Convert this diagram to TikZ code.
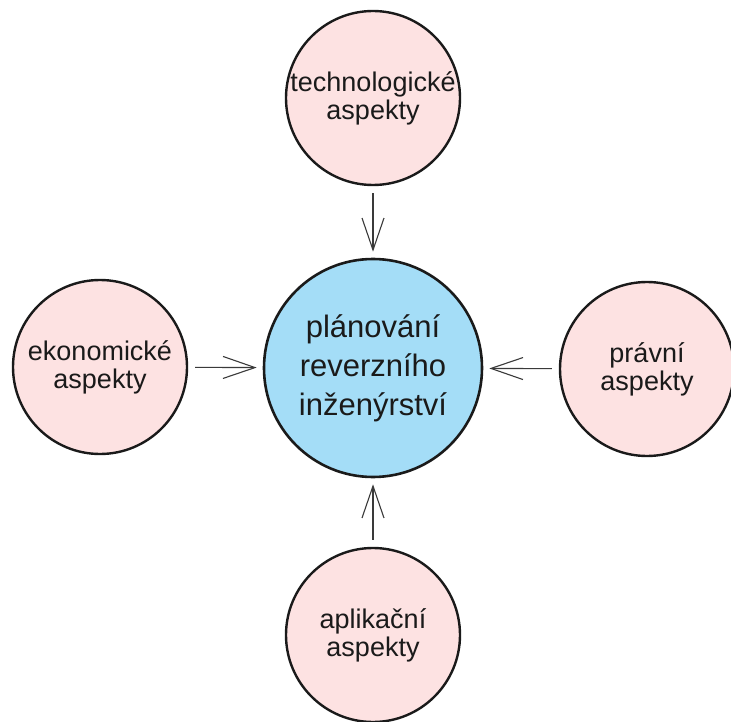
\documentclass[tikz,border=0pt]{standalone}
\usepackage{fontspec}
\setmainfont{Liberation Sans}
\usetikzlibrary{arrows.meta}

\definecolor{aspectfill}{HTML}{FDE2E2}
\definecolor{corefill}{HTML}{A4DDF7}
\definecolor{inkline}{HTML}{1A1A1A}
\definecolor{arrowline}{HTML}{3A3A3A}

\tikzset{
  aspect/.style={circle, draw=inkline, line width=2.4pt, fill=aspectfill,
    minimum size=174pt, inner sep=0pt, align=center, text=inkline,
    font=\fontsize{27}{28}\selectfont},
  core/.style={circle, draw=inkline, line width=2.6pt, fill=corefill,
    minimum size=218pt, inner sep=0pt, align=center, text=inkline,
    font=\fontsize{31}{39}\selectfont},
  conn/.style={draw=arrowline, line width=1.1pt,
    -{Straight Barb[length=32pt,width=22pt,line width=1.1pt]},
    shorten <=7pt, shorten >=6pt}
}

\begin{document}
\begin{tikzpicture}[x=1pt,y=-1pt]
  \path[use as bounding box, fill=white] (0,0) rectangle (731,722);

  \node[core] (plan) at (373,368) {plánování\\reverzního\\inženýrství};

  \node[aspect] (tech) at (373,98) {technologické\\aspekty};
  \node[aspect] (eko) at (100,367) {ekonomické\\aspekty};
  \node[aspect] (prav) at (647,369) {právní\\aspekty};
  \node[aspect] (apl) at (373,635) {aplikační\\aspekty};

  \draw[conn] (tech) -- (plan);
  \draw[conn] (eko) -- (plan);
  \draw[conn] (prav) -- (plan);
  \draw[conn] (apl) -- (plan);
\end{tikzpicture}
\end{document}
